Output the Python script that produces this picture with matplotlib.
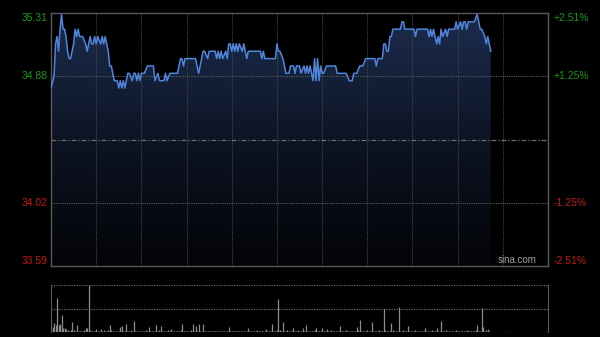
import numpy as np
import matplotlib
matplotlib.use("Agg")
import matplotlib.pyplot as plt
from matplotlib.colors import LinearSegmentedColormap

plt.rcParams['font.family'] = ['Liberation Sans', 'DejaVu Sans']

# intraday minutes since 9:30 (HK session, 330 trading minutes)
price_min = [0, 2, 3, 4, 5, 6, 7, 8, 9, 10, 11, 12, 13, 14, 15, 16, 17, 18, 19, 20,
             21, 23, 24, 25, 26, 27, 28, 29, 30, 31, 33, 34, 35, 36, 37, 38, 39, 40, 41, 42,
             44, 45, 46, 47, 48, 49, 50, 51, 52, 54, 55, 56, 57, 58, 59, 60, 62, 64, 65, 66,
             68, 69, 71, 72, 75, 76, 77, 79, 84, 86, 87, 88, 89, 96, 97, 98, 100, 101, 102, 104,
             105, 109, 110, 111, 112, 113, 114, 116, 117, 118, 119, 120, 121, 122, 123, 124, 125, 127, 128, 129,
             130, 131, 132, 139, 140, 141, 142, 143, 149, 150, 151, 152, 154, 155, 156, 158, 159, 161, 162, 163,
             165, 166, 168, 169, 170, 171, 172, 173, 174, 175, 176, 177, 178, 179, 180, 181, 183, 189, 190, 196,
             198, 199, 200, 201, 203, 205, 207, 209, 215, 216, 217, 220, 221, 222, 223, 224, 225, 226, 227, 232,
             233, 234, 235, 241, 242, 243, 250, 251, 252, 253, 254, 255, 256, 257, 258, 259, 260, 262, 263, 264,
             265, 268, 269, 270, 272, 273, 274, 275, 276, 277, 281, 283, 284, 285, 286, 288, 289, 290, 291, 292]
price_val = [34.80, 34.88, 35.10, 35.15, 35.05, 35.20, 35.30, 35.20, 35.20, 35.15, 35.05, 35.00, 35.00, 35.05, 35.10, 35.20, 35.15, 35.20, 35.15, 35.15,
             35.15, 35.10, 35.05, 35.10, 35.15, 35.10, 35.10, 35.15, 35.10, 35.15, 35.10, 35.15, 35.10, 35.15, 35.10, 35.05, 34.95, 34.95, 34.90, 34.85,
             34.85, 34.80, 34.85, 34.80, 34.85, 34.80, 34.85, 34.90, 34.90, 34.85, 34.90, 34.90, 34.85, 34.90, 34.85, 34.90, 34.90, 34.95, 34.95, 34.95,
             34.95, 34.85, 34.90, 34.85, 34.85, 34.90, 34.85, 34.90, 34.90, 35.00, 35.00, 34.95, 35.00, 35.00, 34.95, 34.90, 35.00, 35.05, 35.05, 35.00,
             35.05, 35.05, 35.00, 35.05, 35.00, 35.05, 35.00, 35.05, 35.00, 35.10, 35.10, 35.05, 35.10, 35.05, 35.10, 35.05, 35.10, 35.05, 35.10, 35.05,
             35.00, 35.05, 35.05, 35.05, 35.00, 35.05, 35.00, 35.00, 35.00, 35.10, 35.05, 35.05, 35.00, 34.95, 34.90, 34.90, 34.95, 34.95, 34.90, 34.95,
             34.95, 34.90, 34.95, 34.90, 34.95, 34.90, 34.95, 34.90, 34.85, 35.00, 34.85, 35.00, 34.85, 34.95, 34.90, 34.90, 34.95, 34.95, 34.90, 34.90,
             34.85, 34.85, 34.85, 34.90, 34.90, 34.95, 34.95, 35.00, 35.00, 34.95, 35.00, 35.00, 35.10, 35.10, 35.05, 35.05, 35.15, 35.15, 35.20, 35.20,
             35.25, 35.25, 35.20, 35.20, 35.15, 35.20, 35.20, 35.15, 35.20, 35.15, 35.20, 35.15, 35.10, 35.15, 35.10, 35.20, 35.15, 35.20, 35.15, 35.20,
             35.20, 35.20, 35.25, 35.20, 35.25, 35.20, 35.25, 35.25, 35.20, 35.25, 35.25, 35.30, 35.25, 35.20, 35.20, 35.15, 35.10, 35.15, 35.10, 35.05]

volume = [30, 10, 19, 15, 73, 15, 18, 37, 8, 8, 6, 4, 3, 5, 21, 4, 3, 14, 3, 2,
          3, 2, 4, 8, 8, 100, 4, 3, 2, 3, 6, 3, 2, 6, 3, 4, 2, 3, 5, 15,
          4, 3, 2, 3, 2, 3, 10, 12, 3, 2, 18, 3, 2, 4, 3, 24, 2, 3, 2, 3,
          2, 3, 2, 4, 3, 10, 2, 3, 2, 3, 14, 3, 4, 12, 2, 3, 2, 3, 4, 2,
          7, 2, 3, 2, 3, 2, 4, 18, 3, 2, 3, 2, 3, 4, 18, 3, 12, 2, 18, 3,
          2, 18, 3, 2, 3, 2, 2, 3, 2, 3, 2, 3, 2, 2, 3, 2, 3, 2, 10, 2,
          3, 2, 2, 3, 2, 3, 2, 2, 3, 2, 2, 8, 3, 2, 2, 3, 2, 4, 2, 3,
          2, 3, 2, 7, 3, 2, 3, 18, 3, 2, 4, 70, 5, 3, 21, 3, 2, 4, 3, 2,
          3, 8, 2, 3, 4, 2, 3, 8, 3, 15, 2, 3, 2, 3, 2, 4, 8, 3, 2, 3,
          8, 3, 2, 7, 3, 2, 4, 3, 2, 3, 2, 3, 13, 2, 3, 2, 4, 2, 3, 2,
          3, 2, 3, 10, 4, 26, 3, 2, 3, 2, 4, 3, 2, 21, 3, 2, 3, 2, 4, 3,
          3, 49, 4, 3, 2, 3, 20, 4, 3, 2, 3, 53, 3, 2, 4, 3, 2, 12, 3, 2,
          3, 2, 4, 3, 2, 3, 2, 3, 8, 2, 3, 2, 3, 4, 2, 3, 8, 3, 2, 24,
          3, 2, 4, 3, 2, 3, 2, 3, 2, 4, 3, 2, 3, 2, 3, 2, 4, 3, 2, 3,
          2, 3, 4, 14, 3, 2, 51, 10, 3, 4, 6, 3]

prev_close = 34.45
left_ticks = [35.31, 34.88, 34.02, 33.59]
left_labels = ['35.31', '34.88', '34.02', '33.59']
right_labels = ['+2.51%', '+1.25%', '-1.25%', '-2.51%']
total_minutes = 330
grid_minutes = [30, 60, 90, 120, 150, 180, 210, 240, 270, 300]

GREEN = '#169a16'
RED = '#c81414'
SPINE = '#5a5a5a'
GRID = '#464646'

fig = plt.figure(figsize=(6, 3.37), dpi=100, facecolor='black')
ax = fig.add_axes([51 / 600, 71 / 337, 497 / 600, 253 / 337], facecolor='black')
axv = fig.add_axes([51 / 600, 5 / 337, 497 / 600, 47 / 337], facecolor='black')

ymin, ymax = left_ticks[-1], left_ticks[0]
ax.set_xlim(0, total_minutes)
ax.set_ylim(ymin, ymax)

# gradient fill under the price line
poly = ax.fill_between(price_min, price_val, ymin, facecolor='none', edgecolor='none')
cmap = LinearSegmentedColormap.from_list('fill', ['#030407', '#0d1424', '#1c2d4f'])
grad = np.linspace(0, 1, 256).reshape(-1, 1)
im = ax.imshow(grad, cmap=cmap, origin='lower', aspect='auto',
               extent=[0, total_minutes, ymin, ymax], zorder=1)
im.set_clip_path(poly.get_paths()[0], transform=ax.transData)

# grid
for m in grid_minutes:
    ax.axvline(m, color=GRID, lw=0.8, ls=(0, (1, 1)), zorder=2)
for t in left_ticks[1:3]:
    ax.axhline(t, color='#5c5c5c', lw=0.8, ls=(0, (1, 1)), zorder=2)
ax.axhline(prev_close, color='#6a6a6a', lw=0.9, ls=(0, (4, 1.5, 1, 1.5)), zorder=2)

ax.plot(price_min, price_val, color='#4f86dc', lw=1.1, zorder=3)

for s in ax.spines.values():
    s.set_color(SPINE)
    s.set_linewidth(1)

ax.set_xticks([])
ax.set_yticks(left_ticks)
ax.set_yticklabels(left_labels)
ax.tick_params(axis='y', length=0, pad=2.5, labelsize=7.5)
vas = ['top', 'center', 'center', 'bottom']
for lab, va, t in zip(ax.get_yticklabels(), vas, left_ticks):
    lab.set_color(GREEN if t > prev_close else RED)
    lab.set_va(va)

axr = ax.twinx()
axr.set_ylim(ymin, ymax)
axr.set_yticks(left_ticks)
axr.set_yticklabels(right_labels)
axr.tick_params(axis='y', length=0, pad=4, labelsize=7.5)
for lab, va, t in zip(axr.get_yticklabels(), vas, left_ticks):
    lab.set_color(GREEN if t > prev_close else RED)
    lab.set_va(va)
for s in axr.spines.values():
    s.set_visible(False)

ax.text(0.978, 0.004, 'sina.com', transform=ax.transAxes, ha='right', va='bottom',
        color='#a0a0a0', fontsize=7, zorder=4)

# volume panel
vol_x = np.arange(len(volume))
vmax = max(volume)
axv.set_xlim(0, total_minutes)
axv.set_ylim(0, vmax)
axv.vlines(vol_x, 0, volume, color='#8c8c8c', lw=0.9)
for f in [0, 0.5, 1.0]:
    axv.axhline(vmax * f, color='#6a6a6a', lw=0.9, ls=(0, (1, 1)), zorder=0)
axv.spines['top'].set_visible(False)
axv.spines['bottom'].set_visible(False)
axv.spines['left'].set_color(SPINE)
axv.spines['right'].set_color(SPINE)
axv.set_xticks([])
axv.set_yticks([])

fig.savefig('out.png', dpi=100, facecolor='black')
